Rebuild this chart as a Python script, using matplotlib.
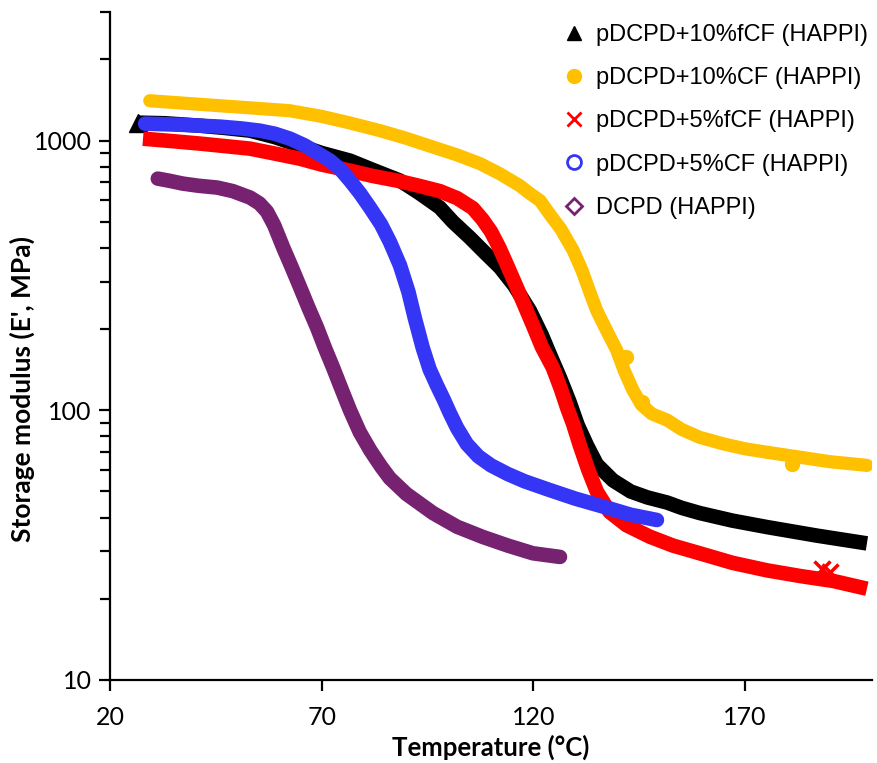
import numpy as np
import matplotlib
matplotlib.use("Agg")
import matplotlib.pyplot as plt
from matplotlib.ticker import FixedLocator, LogLocator, NullFormatter

# storage modulus (MPa) vs temperature (C), DMA sweeps
t_10fcf = [26.6, 33.0, 41.3, 47.0, 53.1, 59.0, 64.9, 70.0, 76.7, 82.0, 88.5, 93.0, 97.9, 101.0, 105.0,
           108.5, 112.1, 115.5, 119.2, 122.0, 124.0, 126.3, 128.5, 130.5, 132.7, 135.0, 138.8, 143.0,
           147.0, 151.6, 155.0, 159.3, 167.0, 175.2, 187.0, 198.8]
e_10fcf = [1166, 1160, 1136, 1115, 1089, 1030, 958, 900, 843, 780, 711, 640, 565, 500, 437,
           385, 339, 290, 234, 190, 160, 132, 108, 88, 74, 63, 55, 50,
           47.5, 45.5, 43.5, 41.6, 39.0, 36.9, 34.3, 32.1]

t_10cf = [29.4, 38.0, 46.0, 54.0, 62.5, 70.0, 76.0, 83.8, 90.0, 96.0, 102.0, 107.4, 112.0, 116.8, 119.0,
          121.6, 124.0, 126.5, 129.4, 131.5, 133.5, 135.0, 137.5, 139.7, 141.5, 143.5, 145.5, 148.0,
          151.6, 155.0, 159.3, 165.0, 170.0, 175.2, 183.0, 190.0, 198.8]
e_10cf = [1406, 1375, 1347, 1320, 1291, 1230, 1170, 1089, 1020, 950, 885, 822, 755, 681, 640,
          599, 530, 470, 392, 330, 270, 234, 195, 167, 140, 119, 105, 97,
          92, 85, 79.4, 75, 72, 69.9, 67, 64.5, 62.5]
t_10cf_stray = [141.9, 145.6, 181.0]
e_10cf_stray = [158, 107, 63.5]

t_5fcf = [27.8, 35.0, 41.3, 47.0, 53.1, 59.0, 64.9, 70.0, 76.7, 82.0, 87.8, 93.0, 97.9, 102.0, 105.7,
          108.0, 110.0, 112.0, 114.0, 116.0, 118.0, 120.0, 122.0, 124.6, 126.5, 128.0, 129.4, 131.0,
          133.0, 135.0, 138.0, 142.0, 147.5, 153.0, 159.3, 167.0, 175.2, 183.0, 190.8, 198.8]
e_5fcf = [1017, 995, 975, 955, 934, 895, 857, 815, 774, 740, 711, 680, 650, 612, 562,
          510, 460, 400, 340, 288, 243, 205, 172, 144, 120, 102, 89, 74,
          60, 50, 42, 37.5, 34, 31.5, 29.5, 27.2, 25.5, 24.3, 23.3, 21.8]
t_5fcf_stray = [188.3, 190.0]
e_5fcf_stray = [25.8, 25.2]

t_5cf = [28.3, 37.0, 46.0, 51.0, 55.4, 59.0, 62.5, 66.0, 69.0, 72.0, 74.5, 76.7, 79.0, 81.4, 84.0,
         86.1, 88.5, 90.5, 92.0, 93.9, 95.5, 97.2, 98.8, 100.3, 102.0, 104.3, 107.0, 110.0, 114.0,
         118.0, 123.9, 130.0, 137.7, 143.0, 149.2]
e_5cf = [1156, 1145, 1127, 1110, 1089, 1060, 1017, 960, 900, 843, 780, 711, 640, 565, 490,
         422, 345, 275, 220, 170, 142, 124, 110, 97.5, 86, 75, 67.5, 62.5, 58,
         54.5, 50.6, 47, 43.4, 41, 39.2]

t_dcpd = [31.3, 34.0, 37.2, 41.0, 45.3, 49.0, 53.1, 55.3, 57.1, 58.8, 60.9, 62.9, 64.9, 66.9, 68.9,
          70.8, 72.7, 74.5, 76.7, 79.0, 81.5, 84.0, 86.1, 90.0, 96.3, 102.0, 108.1, 114.0, 119.9, 126.3]
e_dcpd = [723, 710, 693, 680, 670, 650, 615, 585, 545, 485, 402, 340, 286, 240, 203,
          170, 144, 122, 100, 83, 71, 62, 56, 49, 41.6, 37, 33.9, 31.5, 29.5, 28.6]

labels = ["pDCPD+10%fCF (HAPPI)", "pDCPD+10%CF (HAPPI)", "pDCPD+5%fCF (HAPPI)",
          "pDCPD+5%CF (HAPPI)", "DCPD (HAPPI)"]

c_black = "#000000"
c_gold = "#FFC000"
c_red = "#FF0000"
c_blue = "#3535F5"
c_purple = "#762270"

fig = plt.figure(figsize=(8.77, 7.63), dpi=100)
ax = fig.add_axes([0.1254, 0.1088, 0.8689, 0.8755])

band = 10.5
ax.plot(t_10fcf, e_10fcf, color=c_black, lw=band, solid_capstyle="butt", solid_joinstyle="round", zorder=2)
ax.plot(t_10fcf[:1], e_10fcf[:1], "^", color=c_black, ms=13, zorder=2)
ax.plot(t_10cf, e_10cf, color=c_gold, lw=band - 1, solid_capstyle="round", solid_joinstyle="round", zorder=3)
ax.plot(t_10cf_stray, e_10cf_stray, "o", color=c_gold, ms=10, zorder=3)
ax.plot(t_5fcf, e_5fcf, color=c_red, lw=band, solid_capstyle="butt", solid_joinstyle="round", zorder=4)
ax.plot(t_5fcf_stray, e_5fcf_stray, "x", color=c_red, ms=11, mew=2.5, zorder=4)
ax.plot(t_5cf, e_5cf, color=c_blue, lw=band, solid_capstyle="round", solid_joinstyle="round", zorder=5)
ax.plot(t_dcpd, e_dcpd, color=c_purple, lw=band, solid_capstyle="round", solid_joinstyle="round", zorder=6)

ax.set_yscale("log")
ax.set_xlim(20, 200)
ax.set_ylim(10, 3000)
ax.xaxis.set_major_locator(FixedLocator([20, 70, 120, 170]))
ax.yaxis.set_major_locator(FixedLocator([10, 100, 1000]))
ax.yaxis.set_minor_locator(LogLocator(base=10, subs=np.arange(2, 10)))
ax.yaxis.set_minor_formatter(NullFormatter())
ax.set_yticklabels(["10", "100", "1000"])

for s in ["top", "right"]:
    ax.spines[s].set_visible(False)
for s in ["left", "bottom"]:
    ax.spines[s].set_linewidth(1.6)

ax.tick_params(axis="x", which="major", length=8, width=1.6, direction="out", pad=11)
ax.tick_params(axis="y", which="major", length=8, width=1.6, direction="out", pad=5)
ax.tick_params(axis="y", which="minor", length=7, width=1.6, direction="out")
for lab in ax.get_xticklabels() + ax.get_yticklabels():
    lab.set_fontfamily("Lato")
    lab.set_fontsize(18)

ax.set_xlabel("Temperature (°C)", fontfamily="Lato", fontweight="bold", fontsize=18.5, labelpad=4)
ax.set_ylabel("Storage modulus (E', MPa)", fontfamily="Lato", fontweight="bold", fontsize=19)
# title sits a little below the middle of the value axis
ax.yaxis.set_label_coords(-0.098, 0.435)

handles = [
    plt.Line2D([], [], ls="none", marker="^", color=c_black, ms=10),
    plt.Line2D([], [], ls="none", marker="o", color=c_gold, ms=10),
    plt.Line2D([], [], ls="none", marker="x", color=c_red, ms=10, mew=2),
    plt.Line2D([], [], ls="none", marker="o", mfc="none", mec=c_blue, ms=10, mew=2),
    plt.Line2D([], [], ls="none", marker="D", mfc="none", mec=c_purple, ms=8.5, mew=2),
]
fig.legend(handles, labels, loc="upper right", bbox_to_anchor=(1.0, 0.981), frameon=False,
           prop={"family": "Liberation Sans", "size": 17}, handlelength=0.8,
           handletextpad=0.5, labelspacing=0.9, borderaxespad=0.0)

fig.savefig("out.png", dpi=100, facecolor="white")
